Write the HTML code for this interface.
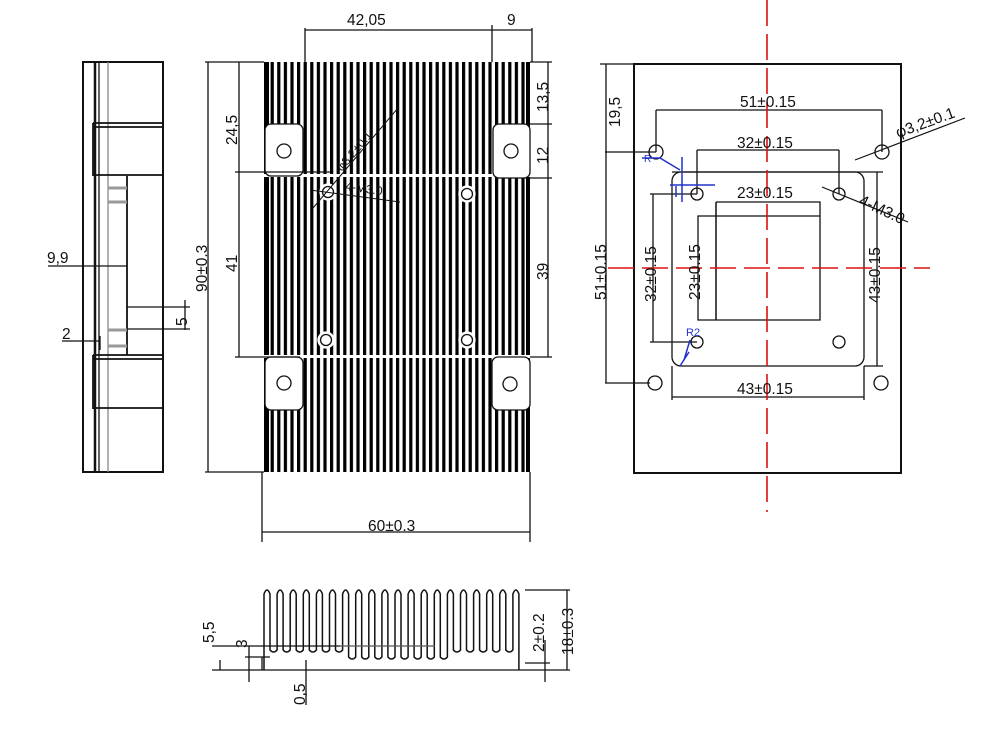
<!DOCTYPE html>
<html><head><meta charset="utf-8"><style>
html,body{margin:0;padding:0;background:#fff}
svg{display:block}
text{font-family:"Liberation Sans",sans-serif;font-size:15.5px;fill:#111}
</style></head><body>
<svg id="s" width="1000" height="733" viewBox="0 0 1000 733" xmlns="http://www.w3.org/2000/svg">
<defs>
<pattern id="fin" x="264" y="0" width="6.6" height="10" patternUnits="userSpaceOnUse">
<rect x="0" y="0" width="3.2" height="10" fill="#000"/>
</pattern>
</defs>
<g stroke="#111" fill="none" stroke-width="1.3">
<!-- SIDE VIEW -->
<rect x="83" y="62" width="80" height="410" stroke-width="2"/>
<line x1="95" y1="62" x2="95" y2="472" stroke-width="2.5"/>
<line x1="99" y1="62" x2="99" y2="472"/>
<line x1="108" y1="62" x2="108" y2="472" stroke="#888"/>
<path d="M93 123 H163 M95 127 H163 M93 123 V176 M93 175 H163" stroke-width="1.8"/>
<path d="M93 355 H163 M95 359 H163 M93 355 V409 M93 408 H163" stroke-width="1.8"/>
<line x1="127" y1="176" x2="127" y2="355" stroke-width="1.8"/>
<path d="M108 188 H127 M108 202 H127 M108 330 H127 M108 346 H127" stroke="#999" stroke-width="3"/>
<path d="M48 266 H127 M127 307 H190 M127 329 H190 M185 300 V330 M62 341 H100 M100 336 V350"/>
<!-- TOP VIEW -->
<rect x="264" y="62" width="266" height="410" fill="url(#fin)" stroke="none"/>
<rect x="264" y="62" width="5" height="410" fill="#000" stroke="none"/>
<rect x="526" y="62" width="4" height="410" fill="#000" stroke="none"/>
<rect x="264" y="174" width="266" height="3" fill="#fff" stroke="none"/>
<rect x="264" y="355" width="266" height="3" fill="#fff" stroke="none"/>
<rect x="265" y="124" width="38" height="52" rx="6" fill="#fff"/>
<rect x="493" y="124" width="37" height="54" rx="6" fill="#fff"/>
<rect x="265" y="357" width="38" height="53" rx="6" fill="#fff"/>
<rect x="492" y="357" width="38" height="53" rx="6" fill="#fff"/>
<circle cx="284" cy="151" r="7"/><circle cx="511" cy="151" r="7"/>
<circle cx="284" cy="383" r="7"/><circle cx="510" cy="384" r="7"/>
<circle cx="328" cy="192" r="8" fill="#fff" stroke="#fff"/><circle cx="328" cy="192" r="5.5"/>
<circle cx="467" cy="194" r="8" fill="#fff" stroke="#fff"/><circle cx="467" cy="194" r="5.5"/>
<circle cx="326" cy="340" r="8" fill="#fff" stroke="#fff"/><circle cx="326" cy="340" r="5.5"/>
<circle cx="467" cy="340" r="8" fill="#fff" stroke="#fff"/><circle cx="467" cy="340" r="5.5"/>
<path d="M313 208 L398 108 M310 190 L400 202" stroke-width="1"/>
<path d="M305 28 V62 M492 25 V62 M532 28 V62 M305 30 H492 H532"/>
<path d="M205 62 H264 M205 472 H264 M208 62 V472 M239 62 V357 M235 172 H330 M235 357 H300"/>
<path d="M530 62 H552 M530 124 H552 M530 178 H552 M530 357 H552 M548 62 V357"/>
<path d="M262 472 V542 M530 472 V542 M262 532 H530"/>
<!-- RIGHT VIEW -->
<rect x="634" y="64" width="267" height="409" stroke-width="2"/>
<rect x="672" y="172" width="192" height="194" rx="9"/>
<path d="M716 202 H820 V320 H698 V216 H820 M716 202 V320" />
<circle cx="656" cy="152" r="7"/><circle cx="882" cy="152" r="7"/>
<circle cx="655" cy="383" r="7"/><circle cx="881" cy="383" r="7"/>
<circle cx="697" cy="194" r="6"/><circle cx="839" cy="194" r="6"/>
<circle cx="697" cy="342" r="6"/><circle cx="839" cy="342" r="6"/>
<path d="M656 110 V152 M882 110 V152 M656 110 H882"/>
<path d="M697 150 V194 M839 150 V194 M697 150 H839"/>
<path d="M600 64 H640 M605 152 H656 M605 383 H650 M606 64 V383"/>
<path d="M650 194 H697 M650 342 H697 M653 194 V342 M716 202 V320"/>
<path d="M672 172 H883 M864 366 H883 M877 172 V366"/>
<path d="M672 366 V400 M864 366 V400 M672 397 H864"/>
<path d="M855 160 L965 118 M822 187 L908 222" stroke-width="1.2"/>
<g stroke="#2233cc" stroke-width="1.5">
<path d="M642 158 H660 L680 170 M670 185 H715 M682 157 V202 M676 186 V197 M689 352 L680 366 M690 340 L684 360"/>
</g>
<g stroke="#dd1111" stroke-width="1.6" stroke-dasharray="26,8">
<line x1="767" y1="0" x2="767" y2="512"/>
<line x1="608" y1="268" x2="930" y2="268"/>
</g>
<!-- BOTTOM VIEW -->
<g id="bfins" stroke-width="1.5"></g>
<path d="M212 646 H340 M245 657 H270 M212 670 H530 M249 646 V682 M306 660 V705 M262 657 V670 M220 660 V670 M525 590 H570 M525 663 H550 M530 670 H570 M545 640 V682 M567 590 V670" />
<path d="M340 646 H435" stroke="#555"/>
</g>
<g>
<text x="347" y="25">42,05</text>
<text x="507" y="25">9</text>
<text transform="translate(237,145) rotate(-90)">24,5</text>
<text transform="translate(237,272) rotate(-90)">41</text>
<text transform="translate(207,292) rotate(-90)">90±0.3</text>
<text transform="translate(548,112) rotate(-90)">13,5</text>
<text transform="translate(548,164) rotate(-90)">12</text>
<text transform="translate(548,280) rotate(-90)">39</text>
<text x="368" y="531">60±0.3</text>
<text x="47" y="263">9,9</text>
<text transform="translate(187,326) rotate(-90)">5</text>
<text x="62" y="339">2</text>
<text transform="translate(342,172) rotate(-50)" style="font-size:12px">φ3.2±0.1</text>
<text transform="translate(345,190) rotate(8)" style="font-size:12px">4-M3.0</text>
<text x="740" y="107">51±0.15</text>
<text x="737" y="148">32±0.15</text>
<text x="737" y="198">23±0.15</text>
<text x="737" y="394">43±0.15</text>
<text transform="translate(620,127) rotate(-90)">19,5</text>
<text transform="translate(606,300) rotate(-90)">51±0.15</text>
<text transform="translate(656,302) rotate(-90)">32±0.15</text>
<text transform="translate(700,300) rotate(-90)">23±0.15</text>
<text transform="translate(880,303) rotate(-90)">43±0.15</text>
<text transform="translate(898,138) rotate(-20)">φ3,2±0.1</text>
<text transform="translate(858,204) rotate(25)">4-M3.0</text>
<text x="644" y="162" style="font-size:10px;fill:#2233cc">R</text>
<text x="686" y="336" style="font-size:11px;fill:#2233cc">R2</text>
<text transform="translate(214,643) rotate(-90)">5,5</text>
<text transform="translate(247,648) rotate(-90)">3</text>
<text transform="translate(305,705) rotate(-90)">0,5</text>
<text transform="translate(544,652) rotate(-90)">2±0.2</text>
<text transform="translate(573,655) rotate(-90)">18±0.3</text>
</g>
</svg>
<script>
(function(){
var g=document.getElementById('bfins');var d='';var p=13.1,x0=264,w=6;
d+='M'+x0+' 670 V594';
for(var i=0;i<20;i++){var a=x0+i*p;var b=a+w;
 d+=' Q'+(a+w/2)+' 586 '+b+' 594';
 var bot=(i>=6&&i<=13)?657:650; if(i<19){d+=' V'+bot+' Q'+(b+(p-w)/2)+' '+(bot+4)+' '+(a+p)+' '+bot+' V594';}
 else d+=' V670';}
var e=document.createElementNS('http://www.w3.org/2000/svg','path');e.setAttribute('d',d);g.appendChild(e);
})();
</script>
</body></html>
